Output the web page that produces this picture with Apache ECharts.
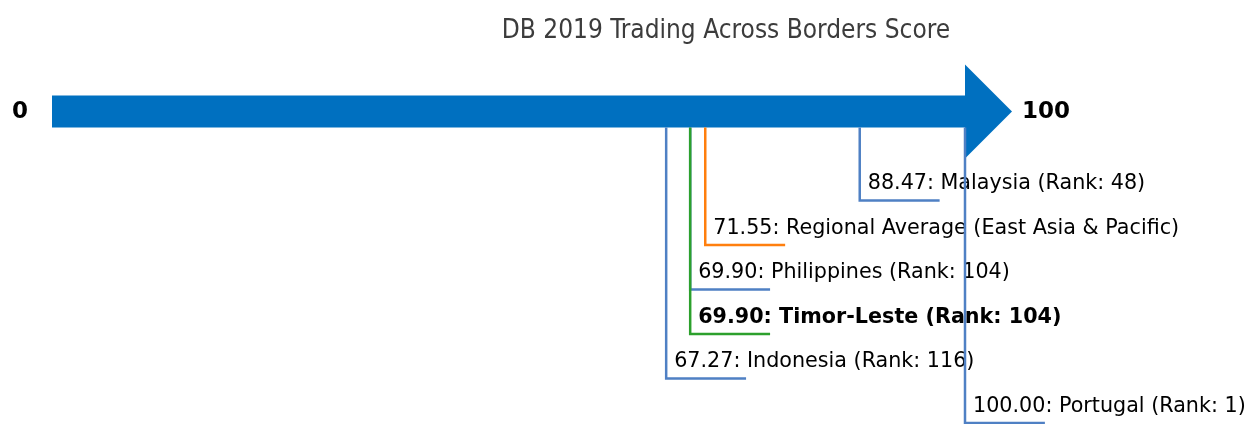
<!DOCTYPE html>
<html>
<head>
<meta charset="utf-8">
<title>DB 2019 Trading Across Borders Score</title>
<script src="https://cdn.jsdelivr.net/npm/echarts@6/dist/echarts.min.js"></script>
<style>
  html, body { margin: 0; padding: 0; background: #fff; }
  #chart { width: 1251px; height: 424px; }
</style>
</head>
<body>
<div id="chart"></div>
<script>
// scale of the arrow
const scoreMin = 0
const scoreMax = 100

// economies, top to bottom
const names = ['Malaysia', 'Regional Average (East Asia & Pacific)', 'Philippines', 'Timor-Leste', 'Indonesia', 'Portugal']
const scores = [88.47, 71.55, 69.90, 69.90, 67.27, 100.00]
const ranks = [48, null, 104, 104, 116, 1]
const highlight = 'Timor-Leste'
const regional = 'Regional Average (East Asia & Pacific)'

const FONT = '"DejaVu Sans", Verdana, sans-serif'
const BLUE = '#4f80c4'
const GREEN = '#2ca02c'
const ORANGE = '#ff7f0e'
const ARROW = '#0070c0'

const labelOf = (i) => {
  const v = scores[i].toFixed(2)
  if (names[i] === regional) return v + ': ' + names[i]
  return v + ': ' + names[i] + ' (Rank: ' + ranks[i] + ')'
}
const colorOf = (i) => {
  if (names[i] === highlight) return GREEN
  if (names[i] === regional) return ORANGE
  return BLUE
}

const chart = echarts.init(document.getElementById('chart'))

const option = {
  animation: false,
  title: {
    text: 'DB 2019 Trading Across Borders Score',
    left: 721,
    textAlign: 'center',
    top: 13,
    textStyle: { fontFamily: '"DejaVu Sans Condensed", "DejaVu Sans", sans-serif', fontSize: 26, fontWeight: 'normal', color: '#3c3c3c' }
  },
  grid: { left: 52, right: 286, top: 67, bottom: 1 },
  xAxis: { type: 'value', min: scoreMin, max: scoreMax, show: false },
  yAxis: { type: 'value', min: -1, max: 7, inverse: true, show: false },
  series: [
    {
      // the big arrow
      type: 'custom',
      z: 1,
      data: [[scoreMin, scoreMax]],
      renderItem: (params, api) => {
        const a = api.coord([api.value(0), 0])
        const b = api.coord([api.value(1), 0])
        const body = 16, head = 47, headLen = 47
        return {
          type: 'group',
          children: [
            {
              type: 'polygon',
              shape: {
                points: [
                  [a[0], a[1] - body], [b[0], a[1] - body], [b[0], a[1] - head],
                  [b[0] + headLen, a[1]], [b[0], a[1] + head], [b[0], a[1] + body],
                  [a[0], a[1] + body]
                ]
              },
              style: { fill: ARROW }
            },
            {
              type: 'text',
              x: a[0] - 32, y: a[1] + 1,
              style: { text: String(scoreMin), fontFamily: FONT, fontSize: 23, fontWeight: 'bold', fill: '#000', align: 'center', verticalAlign: 'middle' }
            },
            {
              type: 'text',
              x: b[0] + headLen + 10, y: a[1] + 1,
              style: { text: String(scoreMax), fontFamily: FONT, fontSize: 23, fontWeight: 'bold', fill: '#000', align: 'left', verticalAlign: 'middle' }
            }
          ]
        }
      }
    },
    {
      // drop lines with labels
      type: 'custom',
      z: 2,
      data: scores.map((s, i) => [s, i]),
      renderItem: (params, api) => {
        const i = api.value(1)
        const level = i + 2
        const top = api.coord([api.value(0), 0])
        const bot = api.coord([api.value(0), level])
        const end = api.coord([api.value(0) + 8.75, level])
        const bold = names[i] === highlight
        return {
          type: 'group',
          children: [
            {
              type: 'polyline',
              shape: { points: [[top[0], top[1] + 16], [bot[0], bot[1]], [end[0], end[1]]] },
              style: { stroke: colorOf(i), lineWidth: 2.5, fill: null }
            },
            {
              type: 'text',
              x: bot[0] + 8, y: bot[1] - 17,
              scaleY: 1.06,
              style: {
                text: labelOf(i), fontFamily: FONT, fontSize: 20.7,
                fontWeight: bold ? 'bold' : 'normal', fill: '#000',
                align: 'left', verticalAlign: 'middle'
              }
            }
          ]
        }
      }
    }
  ]
}

chart.setOption(option)
</script>
</body>
</html>
